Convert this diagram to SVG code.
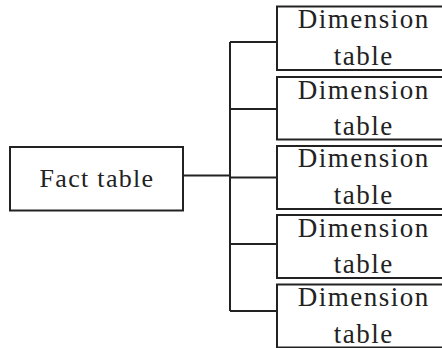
<svg xmlns="http://www.w3.org/2000/svg" width="442" height="348" viewBox="0 0 442 348">
<style>
.box{fill:#fff;stroke:#222;stroke-width:2}
.ln{fill:none;stroke:#222;stroke-width:2}
.t{font-family:"Liberation Serif","Times New Roman",serif;font-size:27px;letter-spacing:1.5px;fill:#222;text-anchor:middle}
.f{font-family:"Liberation Serif","Times New Roman",serif;font-size:26px;letter-spacing:1.3px;fill:#222;text-anchor:middle}
</style>
<rect width="442" height="348" fill="#fff"/>
<g id="connectors">
<path class="ln" d="M183 175.5H230M230 42V311M230 42H277M230 109H277M230 177.5H277M230 244H277M230 311H277"/>
</g>
<g id="fact">
<rect class="box" x="10" y="147" width="173" height="63.5"/>
<text class="f" x="97" y="186.7">Fact table</text>
</g>
<g id="dim1">
<rect class="box" x="277" y="6.5" width="180" height="63.5"/>
<text class="t" x="363.8" y="28.3">Dimension</text>
<text class="t" x="363.8" y="65">table</text>
</g>
<g id="dim2">
<rect class="box" x="277" y="77" width="180" height="62.5"/>
<text class="t" x="363.8" y="98.5">Dimension</text>
<text class="t" x="363.8" y="135">table</text>
</g>
<g id="dim3">
<rect class="box" x="277" y="146" width="180" height="63"/>
<text class="t" x="363.8" y="167.3">Dimension</text>
<text class="t" x="363.8" y="204.3">table</text>
</g>
<g id="dim4">
<rect class="box" x="277" y="215" width="180" height="63"/>
<text class="t" x="363.8" y="236.5">Dimension</text>
<text class="t" x="363.8" y="273.3">table</text>
</g>
<g id="dim5">
<rect class="box" x="277" y="284.5" width="180" height="63"/>
<text class="t" x="363.8" y="306">Dimension</text>
<text class="t" x="363.8" y="342.5">table</text>
</g>
</svg>
